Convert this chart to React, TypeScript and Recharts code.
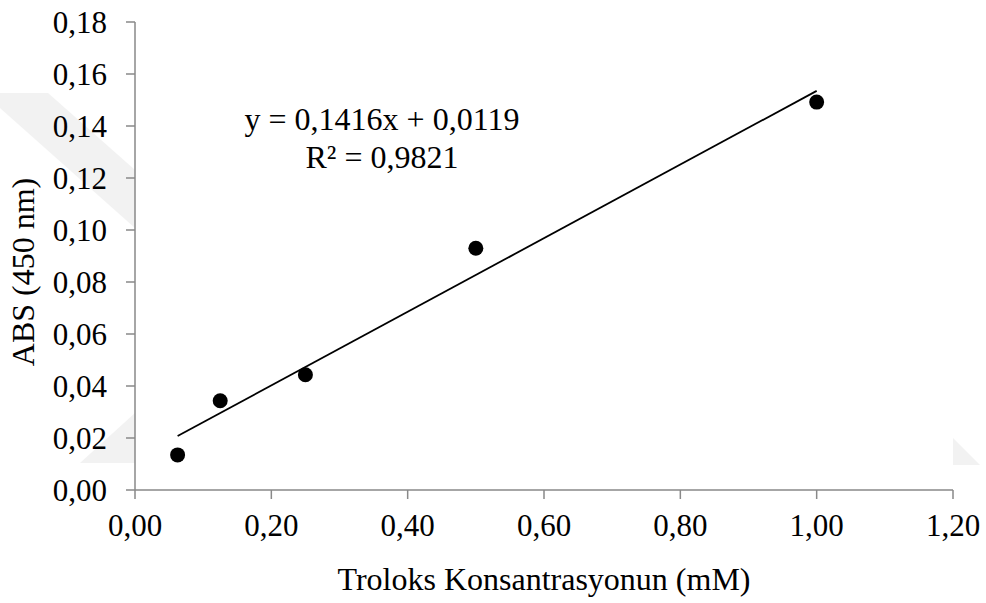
import {
  CartesianGrid,
  ComposedChart,
  Label,
  Scatter,
  XAxis,
  YAxis,
} from "recharts";

// Troloks standard curve
const concentrations = [0.0625, 0.125, 0.25, 0.5, 1.0];
const absorbances = [0.0135, 0.0343, 0.0443, 0.093, 0.1492];

const slope = 0.1416;
const intercept = 0.0119;
const rSquared = 0.9821;

const xTicks = [0, 0.2, 0.4, 0.6, 0.8, 1.0, 1.2];
const yTicks = [0, 0.02, 0.04, 0.06, 0.08, 0.1, 0.12, 0.14, 0.16, 0.18];

const points = concentrations.map((x, i) => ({ x, y: absorbances[i] }));
const trendX = [Math.min(...concentrations), Math.max(...concentrations)];
const trend = trendX.map((x) => ({ x, y: slope * x + intercept }));

const fmt = (v: number, d = 2) => v.toFixed(d).replace(".", ",");
const FONT = "Liberation Serif, Times New Roman, Times, DejaVu Serif, serif";
const AXIS = "#898989";

const Dot = (props: any) => <circle cx={props.cx} cy={props.cy} r={7.5} fill="#000" />;
const NoDot = () => <g />;

export default function App() {
  return (
    <div style={{ position: "fixed", left: 0, top: 0, width: 986, height: 603, background: "#fff", fontFamily: FONT }}>
      {/* faint watermark chevrons behind the chart */}
      <svg width={986} height={603} style={{ position: "absolute", left: 0, top: 0 }}>
        <polygon points="0,93 48,93 135,170 135,228 0,108" fill="#f2f2f2" />
        <polygon points="135,413 135,463 80,463" fill="#f2f2f2" />
        <polygon points="953,438 980,465 953,465" fill="#f2f2f2" />
      </svg>
      <div style={{ position: "absolute", left: 0, top: 0 }}>
        <ComposedChart width={986} height={603} margin={{ top: 22, right: 33, left: 0, bottom: 0 }}>
          <CartesianGrid horizontal={false} vertical={false} fill="#fff" />
          <XAxis
            type="number"
            dataKey="x"
            domain={[0, 1.2]}
            ticks={xTicks}
            tickFormatter={(v) => fmt(v)}
            height={113}
            stroke={AXIS}
            strokeWidth={1.5}
            tickSize={9}
            tickMargin={15}
            tick={{ fill: "#000", fontSize: 31, fontFamily: FONT }}
            allowDataOverflow
          >
            <Label value="Troloks Konsantrasyonun (mM)" position="insideBottom" offset={13} fill="#000" fontSize={32} fontFamily={FONT} />
          </XAxis>
          <YAxis
            type="number"
            dataKey="y"
            domain={[0, 0.18]}
            ticks={yTicks}
            tickFormatter={(v) => fmt(v)}
            width={135}
            stroke={AXIS}
            strokeWidth={1.5}
            tickSize={9}
            tickMargin={19}
            tick={{ fill: "#000", fontSize: 31, fontFamily: FONT }}
            allowDataOverflow
          />
          <Scatter data={trend} line={{ stroke: "#000", strokeWidth: 1.8 }} shape={NoDot} isAnimationActive={false} />
          <Scatter data={points} shape={Dot} isAnimationActive={false} />
        </ComposedChart>
      </div>
      <svg width={986} height={603} style={{ position: "absolute", left: 0, top: 0, pointerEvents: "none" }}>
        <text transform="translate(23,272) rotate(-90)" textAnchor="middle" dominantBaseline="central" fontSize={32} fontFamily={FONT} fill="#000">
          ABS (450 nm)
        </text>
      </svg>
      <div style={{ position: "absolute", left: 232, width: 300, top: 100, textAlign: "center", fontSize: 32, lineHeight: "38px", color: "#000" }}>
        <div>y = {fmt(slope, 4)}x + {fmt(intercept, 4)}</div>
        <div>R² = {fmt(rSquared, 4)}</div>
      </div>
    </div>
  );
}
